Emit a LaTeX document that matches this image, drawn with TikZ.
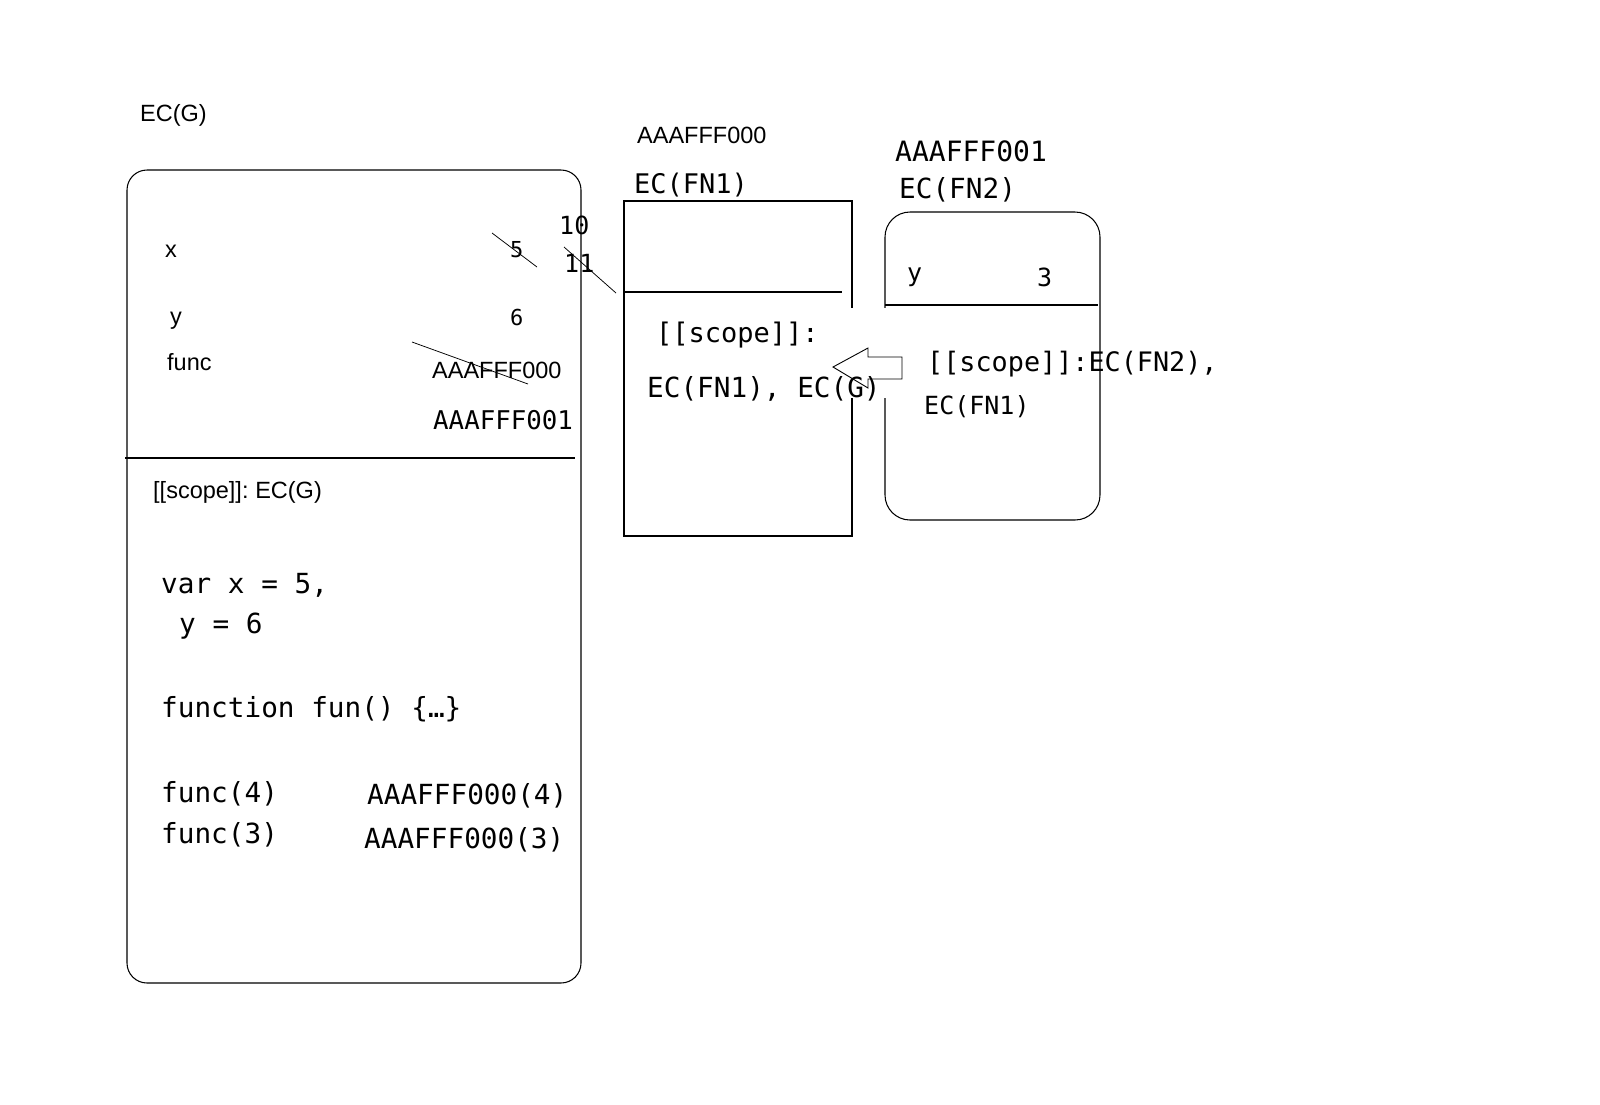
\documentclass[tikz,border=0pt]{standalone}
\usepackage{fontspec}
\newfontfamily\labelsans{Liberation Sans}
\newfontfamily\labelmono{DejaVu Sans Mono}
\usetikzlibrary{calc}

\begin{document}
\begin{tikzpicture}[x=1pt,y=-1pt,
  sanstxt/.style={inner sep=0pt,anchor=west,font=\labelsans\fontsize{23.5}{28}\selectfont},
  monotxt/.style={inner sep=0pt,anchor=west,font=\labelmono\fontsize{27.7}{33}\selectfont},
  monosm/.style={inner sep=0pt,anchor=west,font=\labelmono\fontsize{25}{30}\selectfont},
  boxline/.style={line width=1.05pt},
  strike/.style={line width=0.75pt}]
\useasboundingbox (0,0) rectangle (1600,1104);
% boxes
\draw[boxline,rounded corners=20] (127,170) rectangle (581,983);
\draw[boxline] (125,458)--(575,458);
\draw[boxline] (624,201) rectangle (852,536);
\draw[boxline] (624,292)--(842,292);
\draw[boxline,rounded corners=25] (885,212) rectangle (1100,520);
\draw[boxline] (885,305)--(1098,305);
\fill[white] (845,308) rectangle (890,398);
% arrow
\coordinate(T) at (833,367);
\draw[line width=0.9pt] (T)--(868,348)--(868,357)--(902,357)--(902,379)--(868,379)--(868,388)--cycle;
% EC(G)
\node[sanstxt] (ecg) at (140,115) {EC(G)};
\node[sanstxt] (gx) at (165,251) {x};
\node[sanstxt] (gy) at (170,321) {y};
\node[sanstxt] (gfunc) at (167,362) {func};
\node[monosm,font=\labelmono\fontsize{22}{26}\selectfont] (gx5) at (510,250) {5};
\node[monosm,font=\labelmono\fontsize{22}{26}\selectfont] (gy6) at (510,317) {6};
\node[monosm] (gx10) at (559,225) {10};
\node[monosm] (gx11) at (564,263) {11};
\node[sanstxt] (gf0) at (432,370) {AAAFFF000};
\node[monosm,font=\labelmono\fontsize{25.8}{30}\selectfont] (gf1) at (433,420) {AAAFFF001};
\node[sanstxt] (gscope) at (153,492) {[[scope]]:\hspace{-2pt} EC(G)};
\node[monotxt] (c1) at (161,585) {var x = 5,};
\node[monotxt] (c2) at (179,626) {y = 6};
\node[monotxt] (c3) at (161,709) {function fun() \{…\}};
\node[monotxt] (c4) at (161,794) {func(4)};
\node[monotxt] (c5) at (161,835) {func(3)};
\node[monotxt] (c6) at (367,796) {AAAFFF000(4)};
\node[monotxt] (c7) at (364,840) {AAAFFF000(3)};
% EC(FN1)
\node[sanstxt] (fa0) at (637,135) {AAAFFF000};
\node[monotxt,font=\labelmono\fontsize{27}{32}\selectfont] (fn1) at (634,185) {EC(FN1)};
\node[monotxt,font=\labelmono\fontsize{27}{32}\selectfont] (fn1s) at (656,335) {[[scope]]:};
\node[monotxt] (fn1c) at (647,389) {EC(FN1), EC(G)};
% EC(FN2)
\node[monotxt,font=\labelmono\fontsize{28}{33}\selectfont] (fa1) at (895,151) {AAAFFF001};
\node[monotxt] (fn2) at (899,190) {EC(FN2)};
\node[monosm] (fn2y) at (907,277) {y};
\node[monosm] (fn2v) at (1037,277) {3};
\node[monotxt,font=\labelmono\fontsize{26.8}{32}\selectfont] (fn2s) at (927,364) {[[scope]]:EC(FN2),};
\node[monosm] (fn2c) at (924,407) {EC(FN1)};
% strike-outs
\draw[strike] (492,233)--(537,267);
\draw[strike] (564,247)--(616,293);
\draw[strike] (412,342)--(528,384);
\end{tikzpicture}
\end{document}
